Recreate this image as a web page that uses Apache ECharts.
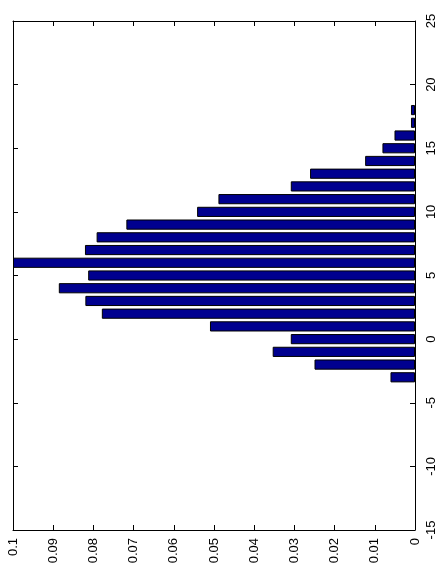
<!DOCTYPE html>
<html>
<head>
<meta charset="utf-8">
<script src="https://cdn.jsdelivr.net/npm/echarts@6/dist/echarts.min.js"></script>
<style>html,body{margin:0;padding:0;background:#fff;}#c{width:439px;height:580px;}</style>
</head>
<body>
<div id="c"></div>
<script>
// Bin centers and relative frequencies
var bins = [-3, -2, -1, 0, 1, 2, 3, 4, 5, 6, 7, 8, 9, 10, 11, 12, 13, 14, 15, 16, 17, 18];
var freq = [0.0061, 0.025, 0.0354, 0.0309, 0.051, 0.0779, 0.082, 0.0886, 0.0813, 0.1, 0.0821, 0.0792,
            0.0718, 0.0542, 0.0489, 0.0309, 0.0261, 0.0124, 0.0081, 0.0051, 0.001, 0.001];
var binAxisMin = -15, binAxisMax = 25, binTickStep = 5;
var freqMin = 0, freqMax = 0.1, freqStep = 0.01;

var cats = [];
for (var v = binAxisMin; v <= binAxisMax; v++) cats.push(String(v));

var chart = echarts.init(document.getElementById('c'));
var gridTop = 21, gridBottom = 50, H = 580;
var unitPx = (H - gridTop - gridBottom) / (binAxisMax - binAxisMin);
function font() { return {fontFamily: '"Liberation Sans", Arial, Helvetica, sans-serif', fontSize: 13, color: '#000'}; }
function ls() { return {color: '#000', width: 1, opacity: 1}; }
function tick(extra) { return Object.assign({show: true, inside: true, length: 5, lineStyle: ls()}, extra || {}); }

chart.setOption({
  animation: false,
  backgroundColor: '#fff',
  grid: {left: 13, right: 24, top: gridTop, bottom: gridBottom, containLabel: false},
  xAxis: [{
    type: 'value', min: freqMin, max: freqMax, interval: freqStep, inverse: true, position: 'bottom',
    axisLine: {show: true, onZero: false, lineStyle: ls()},
    axisTick: tick(),
    splitLine: {show: false},
    axisLabel: Object.assign({rotate: 90, margin: 8,
      formatter: function (v) { return String(+v.toFixed(2)); }}, font())
  }, {
    type: 'value', min: freqMin, max: freqMax, interval: freqStep, inverse: true, position: 'top',
    axisLine: {show: true, onZero: false, lineStyle: ls()},
    axisTick: tick(),
    splitLine: {show: false}, axisLabel: {show: false}
  }],
  yAxis: [{
    type: 'category', data: cats, boundaryGap: false, position: 'right',
    axisLine: {show: true, onZero: false, lineStyle: ls()},
    axisTick: tick({interval: binTickStep - 1}),
    splitLine: {show: false},
    axisLabel: Object.assign({rotate: 90, margin: 10, interval: binTickStep - 1}, font())
  }, {
    type: 'category', data: cats, boundaryGap: false, position: 'left',
    axisLine: {show: true, onZero: false, lineStyle: ls()},
    axisTick: tick({interval: binTickStep - 1}),
    splitLine: {show: false}, axisLabel: {show: false}
  }],
  series: [{
    type: 'bar', xAxisIndex: 0, yAxisIndex: 0,
    barWidth: unitPx * 0.8,
    data: bins.map(function (b, i) { return [freq[i], String(b)]; }),
    itemStyle: {color: '#00008F', borderColor: '#000', borderWidth: 1},
    clip: true
  }]
});
</script>
</body>
</html>
